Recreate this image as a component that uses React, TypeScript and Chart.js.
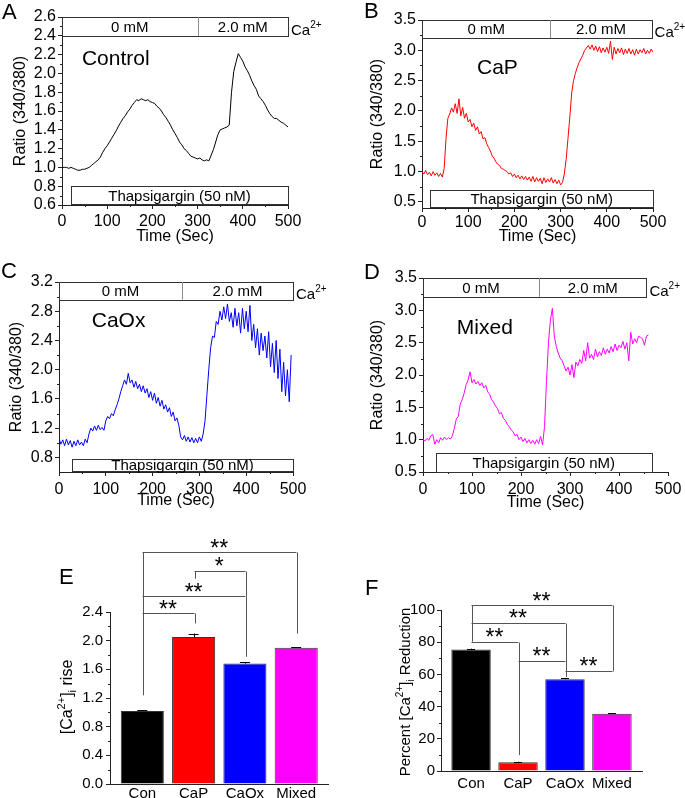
import React, { useEffect, useRef } from "react";
import { Chart, registerables } from "chart.js";

Chart.register(...registerables);

const PAGE_W = 685;
const PAGE_H = 798;
const FONT = 'Arial, "Liberation Sans", Helvetica, sans-serif';
const AXIS_COLOR = "#222222";

// ---------------- data ----------------
const TIME_TICKS = [0, 100, 200, 300, 400, 500];
const TIME_MINOR = [50, 150, 250, 350, 450];

const CONTROL_STEP = 5; // s
const CONTROL_RATIO = [
  1.0, 1.0, 1.0, 0.99, 1.0, 0.99, 0.98, 0.97, 0.97, 0.98,
  0.98, 0.99, 1.0, 1.02, 1.04, 1.06, 1.08, 1.11, 1.16, 1.2,
  1.23, 1.27, 1.31, 1.35, 1.39, 1.44, 1.48, 1.52, 1.55, 1.59,
  1.62, 1.66, 1.69, 1.72, 1.71, 1.73, 1.72, 1.71, 1.72, 1.7,
  1.69, 1.68, 1.65, 1.63, 1.6, 1.56, 1.53, 1.49, 1.45, 1.4,
  1.36, 1.32, 1.27, 1.24, 1.2, 1.18, 1.15, 1.12, 1.11, 1.1,
  1.09, 1.1, 1.08, 1.07, 1.08, 1.07, 1.13, 1.19, 1.27, 1.35,
  1.4, 1.41, 1.42, 1.43, 1.45, 1.8, 2.02, 2.12, 2.21, 2.17,
  2.13, 2.07, 2.03, 1.98, 1.92, 1.87, 1.83, 1.76, 1.73, 1.7,
  1.66, 1.61, 1.57, 1.54, 1.52, 1.52, 1.5, 1.48, 1.47, 1.45,
  1.43,
];

const CAP_STEP = 4; // s
const CAP_RATIO = [
  1.0, 0.96, 1.02, 0.95, 0.99, 0.93, 1.0, 0.94, 0.98, 0.92,
  0.97, 0.91, 1.05, 1.55, 1.88, 1.95, 2.05, 1.98, 2.12, 1.96,
  2.2, 1.92, 2.06, 1.88, 1.96, 1.82, 1.86, 1.74, 1.8, 1.68,
  1.74, 1.62, 1.66, 1.54, 1.56, 1.46, 1.4, 1.34, 1.26, 1.22,
  1.16, 1.12, 1.1, 1.05, 1.04, 1.02, 1.0, 0.96, 0.98, 0.92,
  0.96, 0.9, 0.94, 0.88, 0.93, 0.87, 0.92, 0.86, 0.91, 0.84,
  0.92, 0.83, 0.9, 0.84, 0.89, 0.8, 0.9, 0.82, 0.88, 0.83,
  0.9, 0.81, 0.87, 0.8, 0.86, 0.78, 0.82, 0.96, 1.2, 1.55,
  1.9, 2.3, 2.5, 2.62, 2.72, 2.8, 2.86, 2.92, 3.0, 3.04,
  3.08, 3.02, 3.09, 3.0, 3.07, 2.98, 3.06, 2.96, 3.04, 2.97,
  3.05, 2.95, 3.15, 2.85, 3.05, 2.94, 3.03, 2.96, 3.04, 2.93,
  3.02, 2.95, 3.03, 2.94, 3.01, 2.92, 3.02, 2.94, 3.01, 2.96,
  3.03, 2.94, 3.0, 2.95, 3.02, 2.97,
];

const CAOX_STEP = 4; // s
const CAOX_RATIO = [
  1.06, 0.98, 1.04, 0.96, 1.05, 0.97, 1.03, 0.94, 1.02, 0.96,
  1.04, 0.97, 1.01, 0.96, 1.05, 1.0, 1.12, 1.2, 1.16, 1.23,
  1.17, 1.24, 1.18, 1.21, 1.17, 1.3, 1.36, 1.33, 1.4, 1.37,
  1.45, 1.52, 1.6, 1.7, 1.78, 1.86, 1.8, 1.95, 1.82, 1.86,
  1.76, 1.84, 1.74, 1.8, 1.7, 1.78, 1.68, 1.74, 1.62, 1.7,
  1.58, 1.68, 1.54, 1.62, 1.5, 1.58, 1.46, 1.52, 1.42, 1.48,
  1.36, 1.42, 1.3, 1.34, 1.24, 1.08, 1.04, 1.1, 1.02, 1.08,
  1.01, 1.07, 1.0, 1.06, 1.0, 1.08, 1.02, 1.12, 1.3, 1.65,
  2.0, 2.3, 2.46, 2.44, 2.66, 2.62, 2.8, 2.68, 2.86, 2.7,
  2.9, 2.66, 2.78, 2.58, 2.84, 2.6, 2.78, 2.5, 2.84, 2.56,
  2.8, 2.52, 2.88, 2.4, 2.62, 2.3, 2.56, 2.2, 2.5, 2.26,
  2.46, 2.16, 2.52, 2.04, 2.36, 1.96, 2.4, 1.88, 2.28, 1.7,
  2.1, 1.64, 2.0, 1.56, 2.2,
];

const MIXED_STEP = 4; // s
const MIXED_RATIO = [
  1.0, 0.98, 1.02, 0.99, 1.06, 1.08, 0.93, 1.0, 0.95, 1.03,
  0.99, 1.04, 1.0, 1.03, 1.01, 1.06, 1.18, 1.32, 1.36, 1.55,
  1.62, 1.72, 1.85, 1.92, 2.05, 1.88, 1.93, 1.86, 1.9, 1.84,
  1.88, 1.8, 1.84, 1.74, 1.7, 1.62, 1.58, 1.52, 1.48, 1.4,
  1.42, 1.33, 1.3, 1.24, 1.2, 1.15, 1.12, 1.06, 1.08, 1.0,
  1.04, 0.97, 1.02, 0.95, 1.0, 0.94, 0.99, 0.93, 1.0, 0.94,
  1.05, 0.92, 1.2, 1.9, 2.5, 2.85, 3.03, 2.6, 2.44, 2.34,
  2.26, 2.22, 2.14, 2.06, 2.12, 2.0, 2.16, 1.96, 2.2, 2.14,
  2.24, 2.18, 2.38, 2.22, 2.5, 2.26, 2.32, 2.24, 2.4, 2.28,
  2.36, 2.3, 2.42, 2.32, 2.4, 2.34, 2.44, 2.36, 2.48, 2.38,
  2.46, 2.42, 2.52, 2.4, 2.5, 2.22, 2.66, 2.48, 2.56, 2.5,
  2.6, 2.58, 2.56, 2.46, 2.6, 2.62,
];

const A_Y_TICKS = [0.6, 0.8, 1.0, 1.2, 1.4, 1.6, 1.8, 2.0, 2.2, 2.4, 2.6];
const A_Y_MINOR = [0.7, 0.9, 1.1, 1.3, 1.5, 1.7, 1.9, 2.1, 2.3, 2.5];
const B_Y_TICKS = [0.5, 1.0, 1.5, 2.0, 2.5, 3.0, 3.5];
const B_Y_MINOR = [0.75, 1.25, 1.75, 2.25, 2.75, 3.25];
const C_Y_TICKS = [0.8, 1.2, 1.6, 2.0, 2.4, 2.8, 3.2];
const C_Y_MINOR = [1.0, 1.4, 1.8, 2.2, 2.6, 3.0];
const D_Y_TICKS = [0.5, 1.0, 1.5, 2.0, 2.5, 3.0, 3.5];
const D_Y_MINOR = [0.75, 1.25, 1.75, 2.25, 2.75, 3.25];

const GROUPS = ["Con", "CaP", "CaOx", "Mixed"];
const GROUP_COLORS = ["#000000", "#FF0000", "#0000FF", "#FF00FF"];

const RISE_MEAN = [1.02, 2.05, 1.68, 1.9];
const RISE_SEM = [0.01, 0.05, 0.02, 0.01];
const RISE_TICKS = [0, 0.4, 0.8, 1.2, 1.6, 2.0, 2.4];
const RISE_MINOR = [0.2, 0.6, 1.0, 1.4, 1.8, 2.2];
const RISE_BRACKETS = [
  { from: 0, to: 1, level: 2.386, fromEnd: 1.24, toEnd: 2.24, mark: "**" },
  { from: 0, to: 2, level: 2.618, fromEnd: 1.24, toEnd: 1.774, mark: "**" },
  { from: 1, to: 2, level: 2.979, fromEnd: 2.864, toEnd: 2.618, mark: "*" },
  { from: 0, to: 3, level: 3.234, fromEnd: 1.24, toEnd: 2.099, mark: "**" },
];

const REDUCTION_MEAN = [75.5, 5.5, 57.0, 35.5];
const REDUCTION_SEM = [0.5, 0.3, 0.8, 0.3];
const REDUCTION_TICKS = [0, 20, 40, 60, 80, 100];
const REDUCTION_MINOR = [10, 30, 50, 70, 90];
const REDUCTION_BRACKETS = [
  { from: 0, to: 3, level: 103.1, fromEnd: 80.3, toEnd: 62.3, mark: "**" },
  { from: 0, to: 2, level: 92.1, fromEnd: 92.1, toEnd: 62.3, mark: "**" },
  { from: 0, to: 1, level: 80.3, fromEnd: 79.5, toEnd: 9.9, mark: "**" },
  { from: 1, to: 2, level: 68.5, fromEnd: 68.5, toEnd: 62.3, mark: "**" },
  { from: 2, to: 3, level: 62.3, fromEnd: 58.5, toEnd: 62.3, mark: "**" },
];

// ---------------- layout ----------------
type Seg = { t: string; size: number; dy: number };

const TRACE_PANELS = [
  {
    letter: "A", letterPos: [2, 19], name: "Control", namePos: [44, 2.09],
    color: "#000000", values: CONTROL_RATIO, step: CONTROL_STEP,
    area: { l: 62, t: 17, r: 288, b: 205 }, yMin: 0.6, yMax: 2.6,
    yTicks: A_Y_TICKS, yMinor: A_Y_MINOR, yTitleCX: 21, xTitleCY: 237, xLabelPad: 3,
    caBox: { x0: 0, xDiv: 300, x1: 500, y0: 2.4, y1: 2.6 },
    thapBox: { x0: 20, x1: 500, y0: 0.61, y1: 0.8 },
  },
  {
    letter: "B", letterPos: [364, 18], name: "CaP", namePos: [119, 2.61],
    color: "#FF0000", values: CAP_RATIO, step: CAP_STEP,
    area: { l: 422, t: 20, r: 653, b: 208 }, yMin: 0.4, yMax: 3.5,
    yTicks: B_Y_TICKS, yMinor: B_Y_MINOR, yTitleCX: 378, xTitleCY: 237, xLabelPad: 1,
    caBox: { x0: 0, xDiv: 278, x1: 497, y0: 3.2, y1: 3.5 },
    thapBox: { x0: 18, x1: 500, y0: 0.42, y1: 0.7 },
  },
  {
    letter: "C", letterPos: [1, 278], name: "CaOx", namePos: [70, 2.586],
    color: "#0000FF", values: CAOX_RATIO, step: CAOX_STEP,
    area: { l: 59, t: 282, r: 293, b: 472 }, yMin: 0.6, yMax: 3.2,
    yTicks: C_Y_TICKS, yMinor: C_Y_MINOR, yTitleCX: 17, xTitleCY: 501, xLabelPad: 4,
    caBox: { x0: 0, xDiv: 263, x1: 500, y0: 2.96, y1: 3.2 },
    thapBox: { x0: 28, x1: 500, y0: 0.62, y1: 0.78 },
  },
  {
    letter: "D", letterPos: [364, 279], name: "Mixed", namePos: [69, 2.634],
    color: "#FF00FF", values: MIXED_RATIO, step: MIXED_STEP,
    area: { l: 423, t: 278, r: 668, b: 472 }, yMin: 0.5, yMax: 3.5,
    yTicks: D_Y_TICKS, yMinor: D_Y_MINOR, yTitleCX: 378, xTitleCY: 503, xLabelPad: 4,
    caBox: { x0: 0, xDiv: 237, x1: 456, y0: 3.21, y1: 3.5 },
    thapBox: { x0: 26, x1: 467, y0: 0.505, y1: 0.8 },
  },
];

const BAR_PANELS = [
  {
    letter: "E", letterPos: [59, 584],
    area: { l: 110, t: 612, r: 328, b: 784 }, xMin: -0.63, xMax: 3.62,
    yMax: 2.4, yTicks: RISE_TICKS, yMinor: RISE_MINOR, fmt: (v: number) => v.toFixed(1),
    means: RISE_MEAN, sems: RISE_SEM, brackets: RISE_BRACKETS, capW: 10,
    yPad: 3, xPad: 1, xH: 14,
    title: [
      { t: "[Ca", size: 16, dy: 0 }, { t: "2+", size: 11, dy: -7 }, { t: "]", size: 16, dy: 0 },
      { t: "i", size: 11, dy: 4 }, { t: " rise", size: 16, dy: 0 },
    ] as Seg[],
    titleC: [66, 697],
  },
  {
    letter: "F", letterPos: [365, 595],
    area: { l: 441, t: 610, r: 642, b: 771 }, xMin: -0.64, xMax: 3.64,
    yMax: 100, yTicks: REDUCTION_TICKS, yMinor: REDUCTION_MINOR, fmt: (v: number) => String(v),
    means: REDUCTION_MEAN, sems: REDUCTION_SEM, brackets: REDUCTION_BRACKETS, capW: 8,
    yPad: 2, xPad: 4, xH: 20,
    title: [
      { t: "Percent [Ca", size: 15, dy: 0 }, { t: "2+", size: 10, dy: -7 }, { t: "]", size: 15, dy: 0 },
      { t: "i", size: 10, dy: 4 }, { t: " Reduction", size: 15, dy: 0 },
    ] as Seg[],
    titleC: [405, 692],
  },
];

// ---------------- helpers ----------------
function richWidth(ctx: CanvasRenderingContext2D, segs: Seg[]) {
  let w = 0;
  for (const s of segs) {
    ctx.font = `${s.size}px ${FONT}`;
    w += ctx.measureText(s.t).width;
  }
  return w;
}

function drawRich(ctx: CanvasRenderingContext2D, segs: Seg[], x: number, y: number, center: boolean) {
  let cx = center ? x - richWidth(ctx, segs) / 2 : x;
  ctx.textAlign = "left";
  ctx.textBaseline = "alphabetic";
  for (const s of segs) {
    ctx.font = `${s.size}px ${FONT}`;
    ctx.fillText(s.t, cx, y + s.dy);
    cx += ctx.measureText(s.t).width;
  }
}

function hline(ctx: CanvasRenderingContext2D, x0: number, x1: number, y: number) {
  const yy = Math.round(y) + 0.5;
  ctx.moveTo(x0, yy);
  ctx.lineTo(x1, yy);
}
function vline(ctx: CanvasRenderingContext2D, x: number, y0: number, y1: number) {
  const xx = Math.round(x) + 0.5;
  ctx.moveTo(xx, y0);
  ctx.lineTo(xx, y1);
}

function boxText(ctx: CanvasRenderingContext2D, text: string, cx: number, top: number, bottom: number, size: number) {
  ctx.font = `${size}px ${FONT}`;
  ctx.textAlign = "center";
  ctx.textBaseline = "alphabetic";
  ctx.fillText(text, cx, (top + bottom) / 2 + size * 0.36);
}

function tracePlugin(p: any) {
  return {
    id: "traceDecor" + p.letter,
    afterDraw(chart: any) {
      const ctx: CanvasRenderingContext2D = chart.ctx;
      const xs = chart.scales.x;
      const ys = chart.scales.y;
      const ca = chart.chartArea;
      ctx.save();
      ctx.strokeStyle = AXIS_COLOR;
      ctx.lineWidth = 1;
      ctx.beginPath();
      for (const v of p.yMinor) hline(ctx, ca.left - 2, ca.left, ys.getPixelForValue(v));
      for (const v of TIME_MINOR) vline(ctx, xs.getPixelForValue(v), ca.bottom, ca.bottom + 2);
      ctx.stroke();

      // Ca2+ box
      const cb = p.caBox;
      const bx0 = xs.getPixelForValue(cb.x0);
      const bx1 = xs.getPixelForValue(cb.x1);
      const bxd = xs.getPixelForValue(cb.xDiv);
      const by0 = ys.getPixelForValue(cb.y1);
      const by1 = ys.getPixelForValue(cb.y0);
      ctx.fillStyle = "#ffffff";
      ctx.fillRect(bx0, by0, bx1 - bx0, by1 - by0);
      ctx.strokeStyle = "#333333";
      ctx.strokeRect(Math.round(bx0) + 0.5, Math.round(by0) + 0.5, Math.round(bx1 - bx0), Math.round(by1 - by0));
      ctx.strokeStyle = "#8a8a8a";
      ctx.beginPath();
      vline(ctx, bxd, by0, by1);
      ctx.stroke();
      ctx.fillStyle = "#000000";
      boxText(ctx, "0 mM", (bx0 + bxd) / 2, by0, by1, 15);
      boxText(ctx, "2.0 mM", (bxd + bx1) / 2, by0, by1, 15);
      drawRich(ctx, [{ t: "Ca", size: 15, dy: 0 }, { t: "2+", size: 10, dy: -7 }], bx1 + 3, by1 - 1, false);

      // Thapsigargin box
      const tb = p.thapBox;
      const tx0 = xs.getPixelForValue(tb.x0);
      const tx1 = xs.getPixelForValue(tb.x1);
      const ty0 = ys.getPixelForValue(tb.y1);
      const ty1 = ys.getPixelForValue(tb.y0);
      ctx.fillStyle = "#ffffff";
      ctx.fillRect(tx0, ty0, tx1 - tx0, ty1 - ty0);
      ctx.strokeStyle = "#333333";
      ctx.strokeRect(Math.round(tx0) + 0.5, Math.round(ty0) + 0.5, Math.round(tx1 - tx0), Math.round(ty1 - ty0));
      ctx.fillStyle = "#000000";
      boxText(ctx, "Thapsigargin (50 nM)", (tx0 + tx1) / 2, ty0, ty1, 15);

      // panel name
      ctx.font = `21px ${FONT}`;
      ctx.textAlign = "left";
      ctx.textBaseline = "alphabetic";
      ctx.fillText(p.name, xs.getPixelForValue(p.namePos[0]), ys.getPixelForValue(p.namePos[1]));

      // panel letter
      ctx.font = `22px ${FONT}`;
      ctx.fillText(p.letter, p.letterPos[0], p.letterPos[1]);
      ctx.restore();
    },
  };
}

function makeTrace(canvas: HTMLCanvasElement, p: any) {
  const yW = p.area.l - (p.yTitleCX - 4 - 9.6);
  const xH = p.xTitleCY + 9.6 + 4 - p.area.b;
  const pts = p.values.map((v: number, i: number) => ({ x: i * p.step, y: v }));
  return new Chart(canvas, {
    type: "line",
    data: {
      datasets: [
        { data: pts, borderColor: p.color, borderWidth: 1, pointRadius: 0, tension: 0, fill: false },
      ],
    },
    options: {
      responsive: false,
      animation: false,
      events: [],
      layout: {
        padding: {
          left: p.area.l - yW,
          top: p.area.t,
          right: PAGE_W - p.area.r,
          bottom: PAGE_H - p.area.b - xH,
        },
      },
      plugins: { legend: { display: false }, tooltip: { enabled: false } },
      scales: {
        x: {
          type: "linear",
          min: 0,
          max: 500,
          afterBuildTicks: (s: any) => {
            s.ticks = TIME_TICKS.map((v) => ({ value: v }));
          },
          afterFit: (s: any) => {
            s.height = xH;
            s.paddingLeft = 0;
            s.paddingRight = 0;
          },
          grid: { drawOnChartArea: false, drawTicks: true, tickLength: 4, color: AXIS_COLOR },
          border: { display: true, color: AXIS_COLOR, width: 1 },
          ticks: {
            font: { size: 16, family: FONT },
            color: "#000",
            padding: p.xLabelPad,
            maxRotation: 0,
            autoSkip: false,
            callback: (v: any) => String(v),
          },
          title: {
            display: true,
            text: "Time (Sec)",
            font: { size: 16, family: FONT },
            color: "#000",
            padding: { top: 4, bottom: 4 },
          },
        },
        y: {
          type: "linear",
          min: p.yMin,
          max: p.yMax,
          afterBuildTicks: (s: any) => {
            s.ticks = p.yTicks.map((v: number) => ({ value: v }));
          },
          afterFit: (s: any) => {
            s.width = yW;
            s.paddingTop = 0;
            s.paddingBottom = 0;
          },
          grid: { drawOnChartArea: false, drawTicks: true, tickLength: 4, color: AXIS_COLOR },
          border: { display: true, color: AXIS_COLOR, width: 1 },
          ticks: {
            font: { size: 16, family: FONT },
            color: "#000",
            padding: 2,
            autoSkip: false,
            callback: (v: any) => Number(v).toFixed(1),
          },
          title: {
            display: true,
            text: "Ratio (340/380)",
            font: { size: 16, family: FONT },
            color: "#000",
            padding: { top: 4, bottom: 4 },
          },
        },
      },
    },
    plugins: [tracePlugin(p)],
  } as any);
}

function barPlugin(p: any) {
  return {
    id: "barDecor" + p.letter,
    afterDatasetsDraw(chart: any) {
      const ctx: CanvasRenderingContext2D = chart.ctx;
      const xs = chart.scales.x;
      const ys = chart.scales.y;
      ctx.save();
      ctx.strokeStyle = "#000000";
      ctx.lineWidth = 1;
      ctx.beginPath();
      p.means.forEach((m: number, i: number) => {
        const px = xs.getPixelForValue(i);
        const yTop = ys.getPixelForValue(m + p.sems[i]);
        const yMid = ys.getPixelForValue(m);
        vline(ctx, px, yMid, yTop);
        hline(ctx, px - p.capW / 2, px + p.capW / 2, yTop);
      });
      ctx.stroke();
      ctx.restore();
    },
    afterDraw(chart: any) {
      const ctx: CanvasRenderingContext2D = chart.ctx;
      const xs = chart.scales.x;
      const ys = chart.scales.y;
      const ca = chart.chartArea;
      ctx.save();
      ctx.strokeStyle = AXIS_COLOR;
      ctx.lineWidth = 1;
      ctx.beginPath();
      for (const v of p.yMinor) hline(ctx, ca.left - 2, ca.left, ys.getPixelForValue(v));
      ctx.stroke();

      // significance brackets
      ctx.strokeStyle = "#555555";
      ctx.beginPath();
      for (const b of p.brackets) {
        const x0 = Math.round(xs.getPixelForValue(b.from)) + 0.5;
        const x1 = Math.round(xs.getPixelForValue(b.to)) + 0.5;
        const yl = ys.getPixelForValue(b.level);
        hline(ctx, x0, x1, yl);
        vline(ctx, x0, Math.round(yl) + 0.5, ys.getPixelForValue(b.fromEnd));
        vline(ctx, x1, Math.round(yl) + 0.5, ys.getPixelForValue(b.toEnd));
      }
      ctx.stroke();
      ctx.fillStyle = "#000000";
      ctx.font = `23px ${FONT}`;
      ctx.textAlign = "center";
      ctx.textBaseline = "alphabetic";
      for (const b of p.brackets) {
        const cx = (xs.getPixelForValue(b.from) + xs.getPixelForValue(b.to)) / 2;
        ctx.fillText(b.mark, cx, ys.getPixelForValue(b.level) + 3.5);
      }

      // y title (rich text, rotated)
      ctx.save();
      ctx.translate(p.titleC[0], p.titleC[1]);
      ctx.rotate(-Math.PI / 2);
      drawRich(ctx, p.title, 0, p.title[0].size * 0.36, true);
      ctx.restore();

      // letter
      ctx.font = `22px ${FONT}`;
      ctx.textAlign = "left";
      ctx.fillText(p.letter, p.letterPos[0], p.letterPos[1]);
      ctx.restore();
    },
  };
}

function makeBars(canvas: HTMLCanvasElement, p: any) {
  const yW = 40;
  const pts = p.means.map((m: number, i: number) => ({ x: i, y: m }));
  return new Chart(canvas, {
    type: "bar",
    data: {
      datasets: [
        {
          data: pts,
          backgroundColor: GROUP_COLORS,
          borderColor: "#333333",
          borderWidth: 1,
          barPercentage: 0.84,
          categoryPercentage: 1,
        },
      ],
    },
    options: {
      responsive: false,
      animation: false,
      events: [],
      layout: {
        padding: {
          left: p.area.l - yW,
          top: p.area.t,
          right: PAGE_W - p.area.r,
          bottom: PAGE_H - p.area.b - p.xH,
        },
      },
      plugins: { legend: { display: false }, tooltip: { enabled: false } },
      scales: {
        x: {
          type: "linear",
          min: p.xMin,
          max: p.xMax,
          offset: false,
          afterBuildTicks: (s: any) => {
            s.ticks = GROUPS.map((_, i) => ({ value: i }));
          },
          afterFit: (s: any) => {
            s.height = p.xH;
            s.paddingLeft = 0;
            s.paddingRight = 0;
          },
          grid: { display: true, offset: false, drawOnChartArea: false, drawTicks: false, color: AXIS_COLOR },
          border: { display: true, color: AXIS_COLOR, width: 1 },
          ticks: {
            font: { size: 15, family: FONT },
            color: "#000",
            padding: p.xPad,
            maxRotation: 0,
            autoSkip: false,
            callback: (v: any) => GROUPS[Math.round(Number(v))] ?? "",
          },
        },
        y: {
          type: "linear",
          min: 0,
          max: p.yMax,
          afterBuildTicks: (s: any) => {
            s.ticks = p.yTicks.map((v: number) => ({ value: v }));
          },
          afterFit: (s: any) => {
            s.width = yW;
            s.paddingTop = 0;
            s.paddingBottom = 0;
          },
          grid: { drawOnChartArea: false, drawTicks: true, tickLength: 4, color: AXIS_COLOR },
          border: { display: true, color: AXIS_COLOR, width: 1 },
          ticks: {
            font: { size: 15, family: FONT },
            color: "#000",
            padding: p.yPad,
            autoSkip: false,
            callback: (v: any) => p.fmt(Number(v)),
          },
        },
      },
    },
    plugins: [barPlugin(p)],
  } as any);
}

export default function App() {
  const refs = useRef<(HTMLCanvasElement | null)[]>([]);
  useEffect(() => {
    const c = refs.current;
    const charts = [
      ...TRACE_PANELS.map((p, i) => makeTrace(c[i]!, p)),
      ...BAR_PANELS.map((p, i) => makeBars(c[4 + i]!, p)),
    ];
    return () => charts.forEach((ch) => ch.destroy());
  }, []);
  return (
    <div
      style={{
        position: "absolute",
        left: 0,
        top: 0,
        width: PAGE_W,
        height: PAGE_H,
        background: "#ffffff",
        overflow: "hidden",
      }}
    >
      {[0, 1, 2, 3, 4, 5].map((i) => (
        <canvas
          key={i}
          ref={(el) => {
            refs.current[i] = el;
          }}
          width={PAGE_W}
          height={PAGE_H}
          style={{ position: "absolute", left: 0, top: 0, width: PAGE_W, height: PAGE_H }}
        />
      ))}
    </div>
  );
}
